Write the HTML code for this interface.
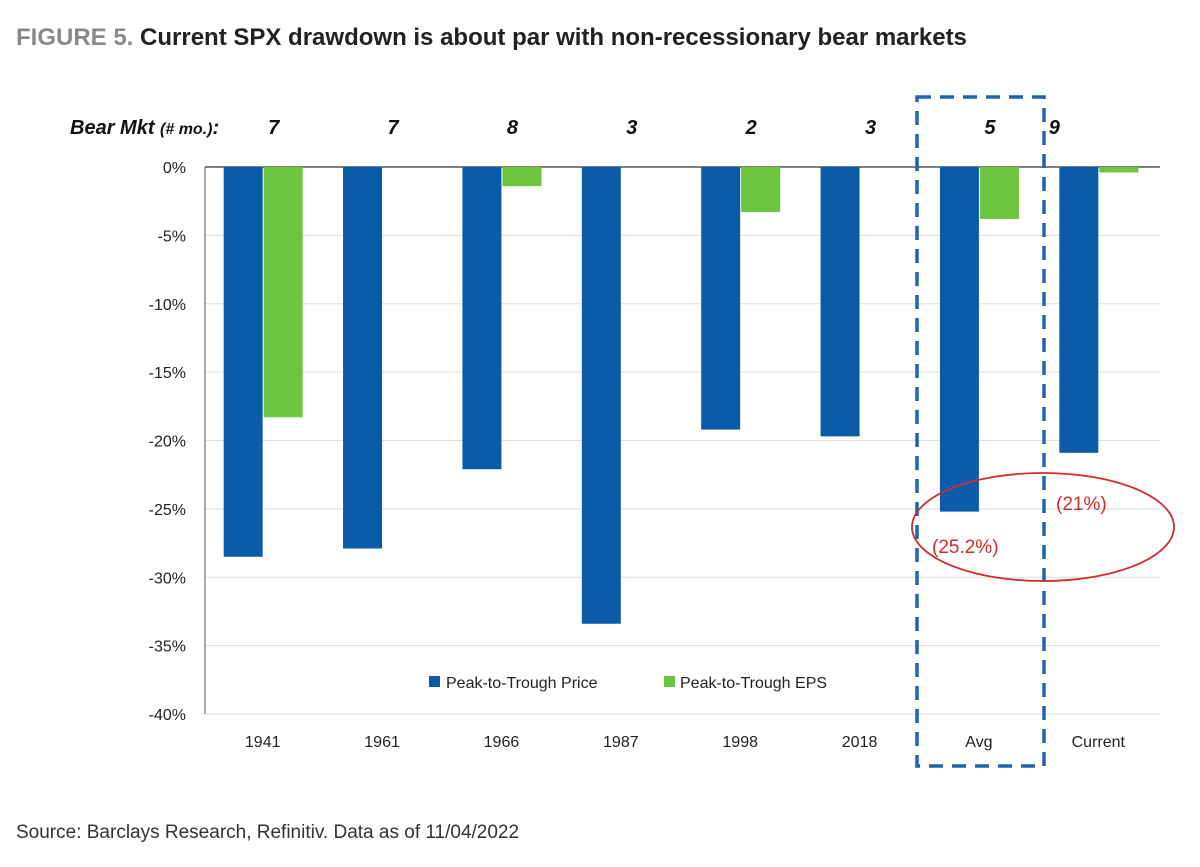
<!DOCTYPE html>
<html><head><meta charset="utf-8"><style>
body{margin:0;background:#fff;width:1200px;height:862px;overflow:hidden;font-family:"Liberation Sans",sans-serif;}
</style></head><body>
<svg width="1200" height="862" xmlns="http://www.w3.org/2000/svg">
<text x="16" y="45" font-size="24" font-weight="bold"><tspan fill="#8a8a8a">FIGURE 5.</tspan><tspan fill="#222"> Current SPX drawdown is about par with non-recessionary bear markets</tspan></text>
<g id="grid"></g>
<g id="bars"></g>
<g id="labels"></g>
<text x="70" y="134" font-size="20" font-style="italic" font-weight="bold" fill="#111">Bear Mkt <tspan font-size="16">(# mo.)</tspan>:</text>
<rect x="917" y="97" width="127" height="669" fill="none" stroke="#1f64b0" stroke-width="3.5" stroke-dasharray="14,9"/>
<ellipse cx="1043" cy="527" rx="131" ry="54" fill="none" stroke="#d42a2a" stroke-width="1.8"/>
<text x="1056" y="510" font-size="19" fill="#d42a2a">(21%)</text>
<text x="932" y="553" font-size="19" fill="#d42a2a">(25.2%)</text>
<rect x="429" y="676" width="11" height="11" fill="#0a5ca8"/>
<text x="446" y="688" font-size="16" fill="#222">Peak-to-Trough Price</text>
<rect x="664" y="676" width="11" height="11" fill="#6dc63e"/>
<text x="680" y="688" font-size="16" fill="#222">Peak-to-Trough EPS</text>
<text x="16" y="838" font-size="19" fill="#333">Source: Barclays Research, Refinitiv. Data as of 11/04/2022</text>
</svg>
<script>
const categories=["1941","1961","1966","1987","1998","2018","Avg","Current"];
const priceVals=[-28.5,-27.9,-22.1,-33.4,-19.2,-19.7,-25.2,-20.9];
const epsVals=[-18.3,0,-1.4,0,-3.3,0,-3.8,-0.4];
const months=["7","7","8","3","2","3","5","9"];
const yTicks=[0,-5,-10,-15,-20,-25,-30,-35,-40];
const NS="http://www.w3.org/2000/svg";
const x0=205,x1=1160,y0=167,y40=714;
const y=v=>y0+(-v)/40*(y40-y0);
const band=(x1-x0)/categories.length;
const cx=i=>x0+band*(i+0.5)-2;
function mk(t,a,p){const e=document.createElementNS(NS,t);for(const k in a)e.setAttribute(k,a[k]);p.appendChild(e);return e;}
const g=document.getElementById('grid'),b=document.getElementById('bars'),l=document.getElementById('labels');
yTicks.forEach(t=>{
 const ln=mk('line',{x1:x0,x2:x1,y1:y(t),y2:y(t),stroke:t===0?'#555':'#ddd','stroke-width':t===0?1.5:1},g);
 
 
 const tx=mk('text',{x:186,y:y(t)+6,'font-size':16,fill:'#222','text-anchor':'end'},g);
 tx.textContent=t+'%';
 
 
});
const ax=mk('line',{x1:x0,x2:x0,y1:y0,y2:y40,stroke:'#555','stroke-width':1},g);


const bw=39;
categories.forEach((c,i)=>{
 const pr=mk('rect',{x:cx(i)-bw,y:y(0),width:bw,height:y(priceVals[i])-y(0),fill:'#0a5ca8'},b);
 
 
 const ep=mk('rect',{x:cx(i)+1,y:y(0),width:bw,height:y(epsVals[i])-y(0),fill:'#6dc63e'},b);
 
 
 const xl=mk('text',{x:cx(i),y:747,'font-size':16,fill:'#222','text-anchor':'middle'},l);
 xl.textContent=c;
 
 
 const ml=mk('text',{x:cx(i)+(i===7?-44:11),y:134,'font-size':20,'font-style':'italic','font-weight':'bold',fill:'#111','text-anchor':'middle'},l);
 ml.textContent=months[i];
 
 
});
</script>
</body></html>
